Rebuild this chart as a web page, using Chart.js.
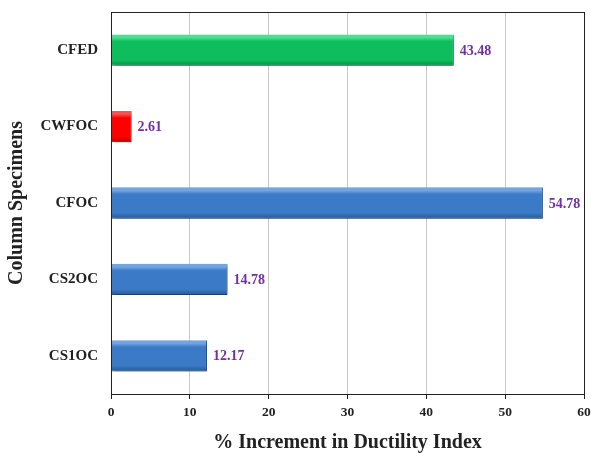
<!DOCTYPE html>
<html>
<head>
<meta charset="utf-8">
<script src="https://cdn.jsdelivr.net/npm/chart.js@4/dist/chart.umd.min.js"></script>
<style>
  html, body { margin: 0; padding: 0; background: #fff; }
  #wrap { width: 591px; height: 453px; }
</style>
</head>
<body>
<div id="wrap"><canvas id="c" width="591" height="453"></canvas></div>
<script>
// Column specimens and their ductility index increments (%)
const specimens = ['CFED', 'CWFOC', 'CFOC', 'CS2OC', 'CS1OC'];
const increments = [43.48, 2.61, 54.78, 14.78, 12.17];
const xTicks = [0, 10, 20, 30, 40, 50, 60];

// Colour ramps per bar: highlight, body, shade
const ramps = {
  green: ['#45e290', '#0ebd5b', '#078a43'],
  red:   ['#ff5050', '#ff0000', '#b80000'],
  blue:  ['#72a6e2', '#3b7ac6', '#27568f']
};
const barRamp = ['green', 'red', 'blue', 'blue', 'blue'];

const serif = "'Liberation Serif', 'Times New Roman', serif";

// Vertical gradient fill for each bar, built from its drawn geometry
const barShading = {
  id: 'barShading',
  beforeDatasetDraw(chart, args) {
    const ctx = chart.ctx;
    args.meta.data.forEach((bar, i) => {
      const top = bar.y - bar.height / 2;
      const bot = bar.y + bar.height / 2;
      const r = ramps[barRamp[i]];
      const g = ctx.createLinearGradient(0, top, 0, bot);
      g.addColorStop(0, r[0]);
      g.addColorStop(0.1, r[0]);
      g.addColorStop(0.22, r[1]);
      g.addColorStop(0.82, r[1]);
      g.addColorStop(1, r[2]);
      bar.options.backgroundColor = g;
    });
    ctx.save();
    ctx.shadowColor = 'rgba(0,0,0,0.35)';
    ctx.shadowBlur = 4;
    ctx.shadowOffsetX = 2;
    ctx.shadowOffsetY = 2;
  },
  afterDatasetDraw(chart) {
    chart.ctx.restore();
  }
};

// Value labels at the end of each bar
const valueLabels = {
  id: 'valueLabels',
  afterDatasetsDraw(chart) {
    const ctx = chart.ctx;
    const meta = chart.getDatasetMeta(0);
    ctx.save();
    ctx.font = 'bold 14px ' + serif;
    ctx.fillStyle = '#7030a0';
    ctx.textAlign = 'left';
    ctx.textBaseline = 'middle';
    meta.data.forEach((bar, i) => {
      ctx.fillText(increments[i].toFixed(2), bar.x + 6, bar.y + 1);
    });
    ctx.restore();
  }
};

// Frame around the plotting area
const plotFrame = {
  id: 'plotFrame',
  afterDraw(chart) {
    const a = chart.chartArea;
    const ctx = chart.ctx;
    ctx.save();
    ctx.strokeStyle = '#222';
    ctx.lineWidth = 1;
    ctx.strokeRect(Math.round(a.left) + 0.5, Math.round(a.top) + 0.5,
                   Math.round(a.right - a.left), Math.round(a.bottom - a.top));
    ctx.restore();
  }
};

new Chart(document.getElementById('c'), {
  type: 'bar',
  data: {
    labels: specimens,
    datasets: [{
      data: increments,
      // scriptable so each bar keeps its own options object
      backgroundColor: (c) => ramps[barRamp[c.dataIndex]][1],
      borderColor: (c) => ramps[barRamp[c.dataIndex]][2],
      borderWidth: { top: 0, right: 1, bottom: 1, left: 0 },
      borderSkipped: false,
      barPercentage: 0.41,
      categoryPercentage: 1
    }]
  },
  options: {
    indexAxis: 'y',
    responsive: false,
    animation: false,
    devicePixelRatio: 1,
    layout: { padding: { left: 0, right: 7, top: 12, bottom: 0 } },
    plugins: { legend: { display: false }, tooltip: { enabled: false } },
    scales: {
      x: {
        min: 0, max: 60,
        afterBuildTicks(scale) { scale.ticks = xTicks.map(v => ({ value: v })); },
        afterFit(scale) {
          scale.height = 59;
          scale.paddingLeft = 0;
          scale.paddingRight = 0;
        },
        grid: {
          color: '#c8c8c8',
          tickColor: '#222',
          tickLength: 5,
          lineWidth: 1
        },
        border: { color: '#222', width: 1 },
        ticks: {
          color: '#222',
          font: { family: serif, size: 13.5, weight: 'bold' },
          padding: 5
        },
        title: {
          display: true,
          text: '% Increment in Ductility Index',
          color: '#222',
          font: { family: serif, size: 20, weight: 'bold', lineHeight: 1.0 },
          padding: { top: 8, bottom: 0 }
        }
      },
      y: {
        afterFit(scale) {
          scale.width = 111;
          scale.paddingTop = 0;
          scale.paddingBottom = 0;
        },
        grid: { display: false },
        border: { color: '#222', width: 1 },
        ticks: {
          color: '#222',
          font: { family: serif, size: 15, weight: 'bold' },
          padding: 5
        },
        title: {
          display: true,
          text: 'Column Specimens',
          color: '#222',
          font: { family: serif, size: 20, weight: 'bold' },
          padding: { top: 5, bottom: 0 }
        }
      }
    }
  },
  plugins: [barShading, valueLabels, plotFrame]
});
</script>
</body>
</html>
